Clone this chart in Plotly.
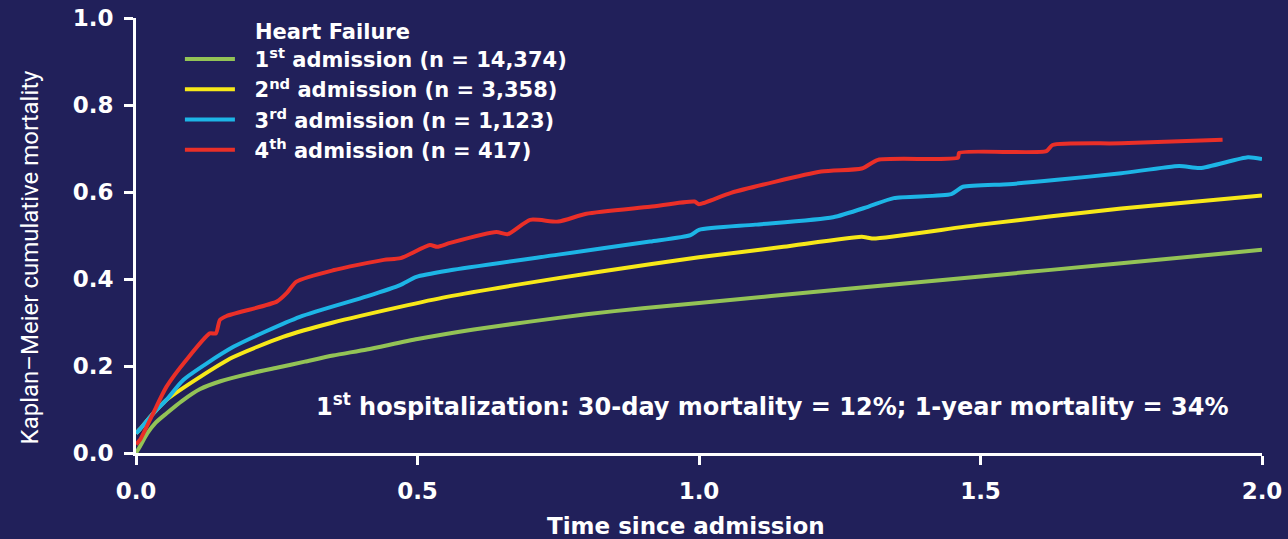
import plotly.graph_objects as go

# Time since admission (years) and Kaplan-Meier cumulative mortality per admission number
t_first = [0.0, 0.007, 0.02, 0.035, 0.054, 0.082, 0.114, 0.15, 0.2, 0.25, 0.3, 0.35, 0.41, 0.5,
           0.6, 0.7, 0.8, 0.9, 1.0, 1.25, 1.5, 1.75, 2.0]
m_first = [0.0, 0.015, 0.045, 0.07, 0.091, 0.12, 0.147, 0.165, 0.182, 0.196, 0.21, 0.224, 0.238,
           0.262, 0.284, 0.302, 0.319, 0.333, 0.345, 0.376, 0.406, 0.436, 0.467]

t_second = [0.0, 0.007, 0.03, 0.054, 0.114, 0.172, 0.261, 0.35, 0.469, 0.552, 0.75, 0.913, 1.0,
            1.15, 1.289, 1.3, 1.31, 1.5, 1.75, 2.0]
m_second = [0.045, 0.055, 0.09, 0.122, 0.175, 0.22, 0.267, 0.3, 0.336, 0.359, 0.402, 0.434, 0.45,
            0.474, 0.497, 0.495, 0.493, 0.525, 0.562, 0.592]

t_third = [0.0, 0.007, 0.03, 0.054, 0.084, 0.173, 0.291, 0.41, 0.469, 0.498, 0.558, 0.75, 0.913,
           0.985, 1.0, 1.1, 1.238, 1.3, 1.346, 1.448, 1.469, 1.55, 1.636, 1.75, 1.853, 1.89,
           1.975, 2.0]
m_third = [0.045, 0.055, 0.09, 0.122, 0.168, 0.244, 0.313, 0.36, 0.386, 0.405, 0.42, 0.456, 0.486,
           0.501, 0.513, 0.525, 0.542, 0.566, 0.586, 0.595, 0.612, 0.618, 0.628, 0.643, 0.66, 0.655,
           0.68, 0.676]

t_fourth = [0.0, 0.007, 0.03, 0.054, 0.09, 0.131, 0.142, 0.149, 0.161, 0.25, 0.268, 0.285, 0.35,
            0.44, 0.47, 0.522, 0.535, 0.558, 0.64, 0.66, 0.7, 0.75, 0.8, 0.913, 0.992, 1.0,
            1.057, 1.217, 1.289, 1.318, 1.46, 1.462, 1.617, 1.628, 1.75, 1.93]
m_fourth = [0.02, 0.03, 0.09, 0.152, 0.215, 0.275, 0.275, 0.306, 0.315, 0.348, 0.368, 0.394, 0.42,
            0.444, 0.448, 0.478, 0.474, 0.483, 0.508, 0.503, 0.536, 0.532, 0.55, 0.566, 0.578, 0.572,
            0.598, 0.647, 0.654, 0.674, 0.679, 0.69, 0.694, 0.708, 0.712, 0.72]

NBSP = "\u00a0"
series = [
    ("1<sup>st</sup> admission (n = 14,374)", t_first, m_first, "#93c356"),
    ("2<sup>nd</sup> admission (n = 3,358)", t_second, m_second, "#f7e819"),
    ("3<sup>rd</sup> admission (n = 1,123)", t_third, m_third, "#1db5e6"),
    ("4<sup>th</sup> admission (n = 417)", t_fourth, m_fourth, "#ea2f28"),
]

x_ticks = [0.0, 0.5, 1.0, 1.5, 2.0]
y_ticks = [0.0, 0.2, 0.4, 0.6, 0.8, 1.0]

BG = "#21205a"
BOLD = "DejaVu Sans"


def bold_font(size):
    return dict(family=BOLD, size=size, color="white", weight="bold")


fig = go.Figure()
for name, t, m, color in series:
    fig.add_trace(go.Scatter(
        x=t, y=m, name=NBSP * 2 + name, mode="lines",
        line=dict(color=color, width=4, shape="spline", smoothing=0.6),
        cliponaxis=False,
    ))

axis_common = dict(
    showgrid=False, zeroline=False, automargin=False,
    showline=True, linecolor="white", linewidth=3,
    ticks="outside", ticklen=9, tickwidth=3, tickcolor="white",
    ticklabelstandoff=6, tickformat=".1f",
    tickfont=bold_font(23),
)

fig.update_layout(
    width=1288, height=539,
    paper_bgcolor=BG, plot_bgcolor=BG,
    margin=dict(l=136, r=26, t=18, b=86, autoexpand=False),
    font=bold_font(22),
    legend=dict(
        x=0.039, y=1.015, xanchor="left", yanchor="top",
        bgcolor="rgba(0,0,0,0)",
        font=bold_font(21),
        title=dict(text=NBSP * 10 + "Heart Failure", font=bold_font(21)),
        tracegroupgap=0, itemwidth=50,
    ),
    xaxis=dict(range=[0, 2.0], tickvals=x_ticks, **axis_common),
    yaxis=dict(range=[0, 1.0], tickvals=y_ticks, **axis_common),
    annotations=[
        dict(
            text="1<sup>st</sup> hospitalization: 30-day mortality = 12%; 1-year mortality = 34%",
            x=1.13, y=0.11, xref="x", yref="y", xanchor="center", yanchor="middle",
            showarrow=False, font=bold_font(24),
        ),
        # axis titles
        dict(
            text="Time since admission",
            x=0.4885, y=-0.168, xref="paper", yref="paper",
            xanchor="center", yanchor="middle", showarrow=False,
            font=bold_font(23),
        ),
        dict(
            text="Kaplan–Meier cumulative mortality",
            x=-0.094, y=0.45, xref="paper", yref="paper", textangle=-90,
            xanchor="center", yanchor="middle", showarrow=False,
            font=dict(family="Roboto", size=24, color="white", weight="normal"),
        ),
    ],
)

fig.write_html("out.html")
